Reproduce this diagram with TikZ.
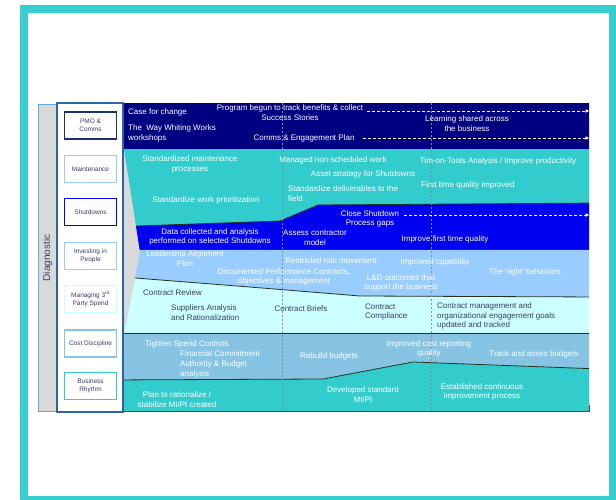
\documentclass[tikz,border=0pt]{standalone}
\usepackage{fontspec}
\setmainfont{Liberation Sans}[Ligatures=TeXOff]
\usetikzlibrary{arrows.meta}
\definecolor{frameteal}{RGB}{54,206,206}
\definecolor{navyband}{RGB}{0,0,128}
\definecolor{tealband}{RGB}{51,204,204}
\definecolor{blueband}{RGB}{0,0,240}
\definecolor{lightband}{RGB}{153,204,255}
\definecolor{cyanband}{RGB}{204,255,255}
\definecolor{skyband}{RGB}{135,196,228}
\definecolor{darktext}{RGB}{60,60,100}
\definecolor{sepline}{RGB}{40,50,30}
\definecolor{panelgray}{RGB}{217,217,217}
\definecolor{panelblue}{RGB}{102,170,221}
\definecolor{colblue}{RGB}{46,100,170}
\definecolor{pmoborder}{RGB}{30,50,110}
\definecolor{maintborder}{RGB}{153,204,238}
\definecolor{vdash}{RGB}{128,144,160}
\begin{document}
\begin{tikzpicture}[x=1pt,y=-1pt,
  wt/.style={inner sep=0pt,font=\fontsize{8}{9.8}\selectfont,text=white},
  dt/.style={inner sep=0pt,font=\fontsize{8}{9.8}\selectfont,text=darktext},
  lbox/.style={draw,line width=1.6pt,fill=white,minimum width=52pt,minimum height=27pt,
    inner sep=0pt,align=center,font=\fontsize{6.5}{8}\selectfont,text=darktext},
  sep/.style={draw=sepline,line width=0.8pt},
  vline/.style={draw=vdash,line width=0.6pt,dash pattern=on 2pt off 2pt},
  darr/.style={draw=white,line width=0.7pt,dash pattern=on 3pt off 2pt,
    -{Triangle[length=3.5pt,width=3.5pt]}}]
\useasboundingbox (0,0) rectangle (616,500);
% outer frame
\draw[frameteal,line width=8pt] (23.5,9) rectangle (613,500);
% gray panel
\fill[panelgray] (38,104) rectangle (142,411.5);
\draw[panelblue,line width=0.8pt] (57,104) -- (38,104) -- (38,411.5) -- (57,411.5);
% white column
\draw[colblue,fill=white,line width=1.6pt] (57,103) rectangle (123,412);
% bands
\begin{scope}
\clip (124,103) -- (589,103) -- (589,411.5) -- (124,411.5) -- (124,335) -- (140,252) -- (124,149) -- cycle;
\fill[navyband] (110,103) rectangle (600,149);
\fill[tealband] (110,149) rectangle (600,230);
\fill[blueband] (110,227) -- (137,226) -- (280,221) -- (318,205) -- (600,203) -- (600,249) -- (110,249) -- cycle;
\fill[lightband] (110,249) rectangle (600,300);
\fill[cyanband] (110,277) -- (135,278) .. controls (250,287) .. (360,296) -- (600,297) -- (600,333) -- (110,333) -- cycle;
\fill[skyband] (110,333) rectangle (600,381);
\fill[tealband] (110,380) -- (323,379) -- (413,362) -- (600,369) -- (600,412) -- (110,412) -- cycle;
\draw[colblue!60,line width=0.6pt] (110,149) -- (600,149);
\draw[sep] (110,227) -- (137,226) -- (280,221) -- (318,205) -- (600,203);
\draw[sep] (110,249) -- (600,249);
\draw[sep] (110,277) -- (135,278) .. controls (250,287) .. (360,296) -- (600,297);
\draw[sep] (110,333) -- (600,333);
\draw[sep] (110,380) -- (323,379) -- (413,362) -- (600,369);
\draw[vline] (282,103) -- (282,411);
\draw[vline] (431,103) -- (431,411);
\end{scope}
\draw[draw={rgb,255:red,90;green,70;blue,40},line width=0.8pt] (124,411.8) -- (589.5,411.8) -- (589.5,405);
% left labels
\node[rotate=90,inner sep=0pt,font=\fontsize{10}{12}\selectfont,text=darktext] (diag) at (47.5,258) {Diagnostic};
\node[lbox,draw=pmoborder] (bpmo) at (90.5,125.5) {PMO \&\\Comms};
\node[lbox,draw=maintborder] (bmaint) at (90.5,169) {Maintenance};
\node[lbox,draw=blue] (bshut) at (90.5,212) {Shutdowns};
\node[lbox,draw=lightband] (binvest) at (90.5,256) {Investing in\\People};
\node[lbox,draw=cyanband] (bmanage) at (90.5,299) {Managing 3\textsuperscript{rd}\\Party Spend};
\node[lbox,draw=skyband] (bcost) at (90.5,343.5) {Cost Discipline};
\node[lbox,draw=tealband] (brhythm) at (90.5,386) {Business\\Rhythm};
% PMO band
\node[wt,anchor=west] (casechange) at (128,112) {Case for change};
\node[wt,anchor=west,align=left] (wayworks) at (128,133.5) {The\ \ Way Whiting Works\\workshops};
\node[wt,align=center] (program) at (290,113) {Program begun to track benefits \& collect\\Success Stories};
\node[wt] (comms) at (304,138) {Comms \& Engagement Plan};
\node[wt,align=center] (learning) at (467,124) {Learning shared across\\the business};
\coordinate (a1s) at (367,111);
\coordinate (a1e) at (589,111);
\coordinate (a2s) at (363,138);
\coordinate (a2e) at (589,138);
\coordinate (a3s) at (404,215);
\coordinate (a3e) at (589,215);
\draw[darr] (a1s) -- (a1e);
\draw[darr] (a2s) -- (a2e);
\draw[darr] (a3s) -- (a3e);
% Maintenance band
\node[wt,align=center] (stdmaint) at (190,164.5) {Standardized maintenance\\processes};
\node[wt] (stdwork) at (206,200) {Standardize work prioritization};
\node[wt] (managed) at (333,160) {Managed non-scheduled work};
\node[wt] (asset) at (363,174) {Asset strategy for Shutdowns};
\node[wt,anchor=west,align=left] (stddeliv) at (288,194) {Standardize deliverables to the\\field};
\node[wt] (timon) at (498,161) {Tim-on-Tools Analysis / Improve productivity};
\node[wt,anchor=west] (ftq) at (421,185) {First time quality improved};
% Shutdown band
\node[wt,align=center] (datacol) at (210,237) {Data collected and analysis\\performed on selected Shutdowns};
\node[wt,align=center] (assess) at (315,238) {Assess contractor\\model};
\node[wt,align=center] (close) at (370,219) {Close Shutdown\\Process gaps};
\node[wt] (improveftq) at (445,239) {Improve first time quality};
% Investing band
\node[wt,align=center] (leader) at (185,259) {Leadership Alignment\\Plan};
\node[wt,align=center] (documented) at (284,277) {Documented Performance Contracts,\\objectives \& management};
\node[wt] (restricted) at (331,261) {Restricted role movement};
\node[wt,align=center] (ld) at (401,283) {L\&D outcomes that\\support the business};
\node[wt] (impcap) at (435,262) {Improved capability};
\node[wt] (rightb) at (525,272) {The 'right' behaviors};
% Managing band
\node[dt,anchor=west] (review) at (143,293) {Contract Review};
\node[dt,anchor=west,align=left] (suppliers) at (171,313) {Suppliers Analysis\\and Rationalization};
\node[dt] (briefs) at (301,309) {Contract Briefs};
\node[dt,anchor=west,align=left] (compliance) at (365,312) {Contract\\Compliance};
\node[dt,anchor=west,align=left] (mgmt) at (437,316) {Contract management and\\organizational engagement goals\\updated and tracked};
% Cost band
\node[wt,anchor=west] (tighten) at (145,344) {Tighten Spend Controls};
\node[wt,anchor=west,align=left] (financial) at (180,364.5) {Financial Commitment\\Authority \& Budget\\analysis};
\node[wt] (rebuild) at (329,356) {Rebuild budgets};
\node[wt,align=center] (costrep) at (429,349) {Improved cost reporting\\quality};
\node[wt] (track) at (534,354) {Track and asses budgets};
% Business rhythm band
\node[wt,align=center] (plan) at (177,399.5) {Plan to rationalize /\\stabilize MI/PI created};
\node[wt,align=center] (devstd) at (363,395) {Developed standard\\MI/PI};
\node[wt,align=center] (estab) at (482,392) {Established continuous\\improvement process};
\end{tikzpicture}
\end{document}
